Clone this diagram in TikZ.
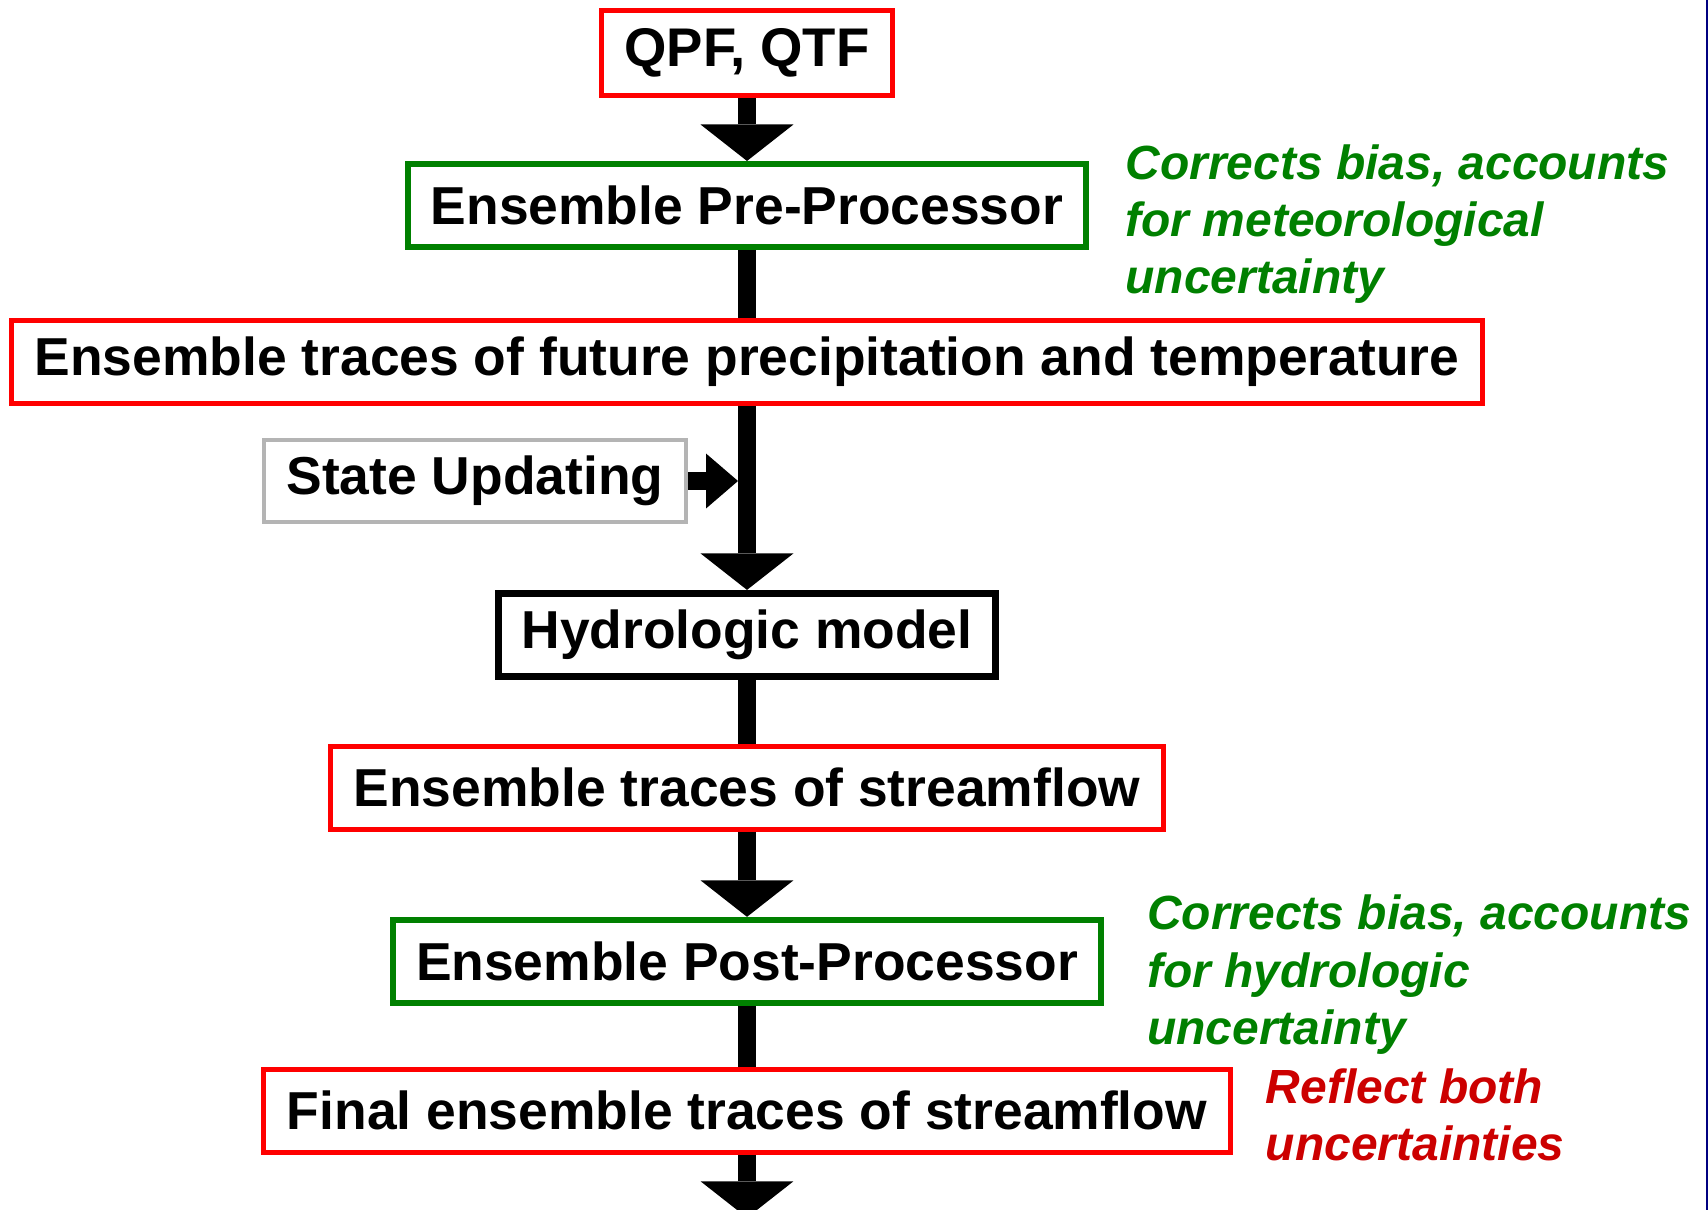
\documentclass[tikz,border=0pt]{standalone}
\usepackage{fontspec}
\setmainfont{Liberation Sans}
\usetikzlibrary{arrows.meta,positioning}
\definecolor{boxred}{RGB}{255,0,0}
\definecolor{boxgreen}{RGB}{0,128,0}
\definecolor{boxgray}{RGB}{180,180,180}
\definecolor{notered}{RGB}{204,0,0}
\definecolor{edgeblue}{RGB}{0,0,128}

\begin{document}
\begin{tikzpicture}[x=0.02cm, y=-0.02cm,
            box/.style={rectangle, draw, fill=white, align=center, inner xsep=0.46cm, minimum height=1.66cm, font=\fontsize{30.4}{36}\selectfont\bfseries},
            databox/.style={box, draw=boxred, line width=0.1cm},
            procbox/.style={box, draw=boxgreen, line width=0.12cm},
            note/.style={align=left, inner sep=0pt, font=\fontsize{27.3}{32.7}\selectfont\bfseries\itshape},
            flow/.style={-{Triangle[width=1.86cm, length=0.73cm, line width=0pt]}, line width=0.35cm},
            shaft/.style={line width=0.35cm},
            feed/.style={-{Triangle[width=1.1cm, length=0.64cm, line width=0pt]}, line width=0.36cm}
        ]
            \useasboundingbox (0,0) rectangle (1708,1210);
            \node[databox, minimum height=1.7cm, font=\fontsize{31}{36}\selectfont\bfseries] (qpf) at (747,53) {QPF, QTF};
            \node[procbox, below=1.26cm of qpf] (pre) {Ensemble Pre-Processor};
            \node[databox, below=1.36cm of pre] (trc) {Ensemble traces of future precipitation and temperature};
            \node[box, draw=black, line width=0.14cm, below=3.68cm of trc] (hyd) {Hydrologic model};
            \node[databox, below=1.28cm of hyd] (str) {Ensemble traces of streamflow};
            \node[procbox, below=1.7cm of str] (post) {Ensemble Post-Processor};
            \node[databox, below=1.22cm of post] (fin) {Final ensemble traces of streamflow};
            \node[box, draw=boxgray, line width=0.08cm] (upd) at (475,481) {State Updating};
            \node[note, text=boxgreen, right=0.72cm of pre.north east, anchor=north west, yshift=0.34cm] (premark) {Corrects bias, accounts\\for meteorological\\uncertainty};
            \node[note, text=boxgreen, right=0.86cm of post.north east, anchor=north west, yshift=0.44cm] (postmark) {Corrects bias, accounts\\for hydrologic\\uncertainty};
            \node[note, text=notered, right=0.66cm of fin.north east, anchor=north west, yshift=-0.03cm] (finmark) {Reflect both\\uncertainties};
            \coordinate (join) at (upd.east -| hyd.north);
            \coordinate[below=1.26cm of fin] (out);
            \draw[flow] (qpf) -- (pre);
            \draw[shaft] (pre) -- (trc);
            \draw[flow] (trc) -- (hyd);
            \draw[shaft] (hyd) -- (str);
            \draw[flow] (str) -- (post);
            \draw[shaft] (post) -- (fin);
            \draw[flow] (fin) -- (out);
            \draw[feed, shorten >=0.18cm] (upd) -- (join);
            \draw[edgeblue, line width=0.04cm] (1707,0) -- (1707,1210);
        \end{tikzpicture}
\end{document}
